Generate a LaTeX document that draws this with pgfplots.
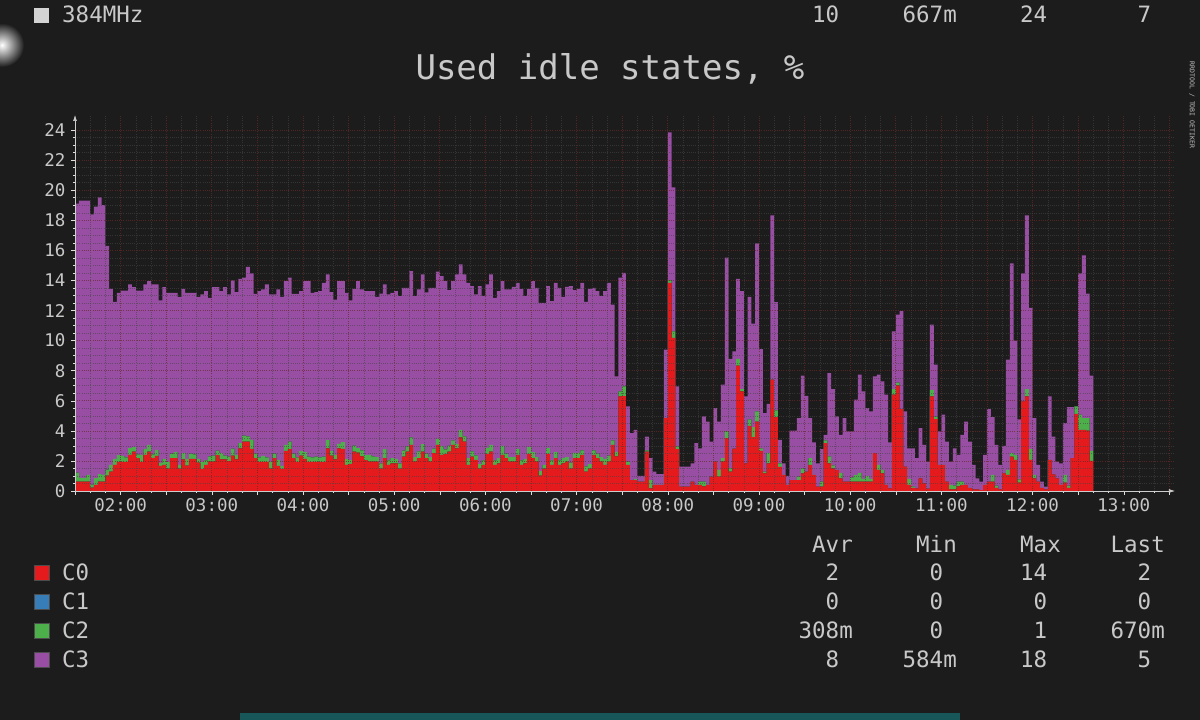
\documentclass[border=0pt]{standalone}
\usepackage{pgfplots}
\pgfplotsset{compat=1.18}
\usepackage{pgfplotstable}
\usepackage{fontspec}
\setmainfont{DejaVu Sans Mono}
\usetikzlibrary{arrows.meta}
\definecolor{bg}{HTML}{1C1C1C}
\definecolor{txt}{HTML}{C8C8C8}
\definecolor{cC0}{HTML}{E41A1C}
\definecolor{cC1}{HTML}{377EB8}
\definecolor{cC2}{HTML}{4DAF4A}
\definecolor{cC3}{HTML}{984EA3}
\definecolor{gmaj}{HTML}{6A2A2A}
\definecolor{gmin}{HTML}{454545}
\definecolor{tealbar}{HTML}{17575A}

\pgfplotstableread{
t c0 c1 c2 c3
90 0.62 0 0.6 17.88
92.5 0.62 0 0.25 18.43
95 0.62 0 0.25 18.43
97.5 0.62 0 0.45 18.23
100 0.22 0 0.2 17.98
102.5 0.4 0 0.45 18.05
105 0.62 0 0.5 18.4
107.5 0.62 0 0.45 17.93
110 1.02 0 0.4 14.88
112.5 1.29 0 0.45 11.7
115 1.73 0 0.4 10.45
117.5 1.93 0 0.45 10.8
120 1.93 0 0.4 11.0
122.5 1.93 0 0.3 11.1
125 2.4 0 0.45 10.88
127.5 2.62 0 0.3 10.64
130 2.18 0 0.25 10.9
132.5 1.93 0 0.45 10.95
135 2.4 0 0.4 10.93
137.5 2.62 0 0.45 10.89
140 2.18 0 0.25 11.3
142.5 2.33 0 0.4 11.0
145 1.67 0 0.2 10.8
147.5 1.73 0 0.4 11.43
150 1.49 0 0.45 11.24
152.5 2.18 0 0.3 10.7
155 2.18 0 0.4 10.6
157.5 1.49 0 0.25 11.17
160 2.11 0 0.4 10.93
162.5 1.69 0 0.45 11.04
165 2.13 0 0.35 10.7
167.5 2.13 0 0.3 10.75
170 1.89 0 0.25 10.77
172.5 1.47 0 0.45 11.15
175 1.73 0 0.3 11.26
177.5 1.96 0 0.35 10.53
180 1.96 0 0.4 11.2
182.5 2.38 0 0.3 10.88
185 2.11 0 0.4 10.78
187.5 2.11 0 0.25 11.2
190 1.98 0 0.3 10.79
192.5 2.36 0 0.45 11.19
195 2.11 0 0.3 10.81
197.5 2.84 0 0.35 10.92
200 3.29 0 0.4 10.49
202.5 3.29 0 0.35 11.27
205 2.8 0 0.6 11.07
207.5 2.18 0 0.3 10.63
210 1.93 0 0.3 11.06
212.5 1.93 0 0.4 11.07
215 1.93 0 0.3 11.5
217.5 1.49 0 0.45 11.13
220 2.18 0 0.3 10.59
222.5 1.67 0 0.4 11.33
225 1.47 0 0.2 11.24
227.5 2.67 0 0.4 10.89
230 2.78 0 0.5 10.9
232.5 2.18 0 0.3 10.63
235 1.93 0 0.3 10.88
237.5 2.36 0 0.3 10.63
240 2.13 0 0.45 11.38
242.5 1.93 0 0.35 11.68
245 1.93 0 0.3 10.95
247.5 1.93 0 0.35 10.94
250 1.93 0 0.3 11.06
252.5 1.93 0 0.35 11.56
255 2.84 0 0.55 11.01
257.5 2.36 0 0.3 10.56
260 2.11 0 0.3 10.32
262.5 2.84 0 0.3 10.82
265 2.8 0 0.45 10.71
267.5 1.73 0 0.4 11.05
270 1.8 0 0.25 10.62
272.5 2.62 0 0.4 10.42
275 2.55 0 0.3 11.11
277.5 2.3 0 0.4 10.7
280 2.05 0 0.35 10.89
282.5 1.96 0 0.45 10.88
285 1.96 0 0.35 10.98
287.5 1.96 0 0.3 10.65
290 1.49 0 0.35 11.29
292.5 2.18 0 0.6 10.95
295 1.73 0 0.3 11.04
297.5 1.84 0 0.35 10.99
300 1.84 0 0.3 11.15
302.5 1.49 0 0.35 11.12
305 2.29 0 0.4 10.82
307.5 2.62 0 0.35 10.54
310 3.07 0 0.5 11.05
312.5 1.96 0 0.3 10.7
315 2.18 0 0.45 10.77
317.5 2.62 0 0.5 11.28
320 2.18 0 0.3 10.72
322.5 1.96 0 0.3 11.25
325 2.51 0 0.3 10.7
327.5 3.07 0 0.4 11.11
330 2.4 0 0.6 11.29
332.5 2.47 0 0.3 11.19
335 2.62 0 0.4 10.34
337.5 3.07 0 0.3 10.59
340 2.84 0 0.3 11.26
342.5 3.56 0 0.5 11.01
345 3.29 0 0.35 10.76
347.5 1.73 0 0.45 11.66
350 2.29 0 0.35 10.98
352.5 2.07 0 0.3 10.7
355 1.49 0 0.3 11.83
357.5 1.73 0 0.3 10.93
360 2.47 0 0.4 10.86
362.5 2.62 0 0.45 11.33
365 1.73 0 0.3 10.81
367.5 1.84 0 0.35 11.1
370 2.4 0 0.6 10.96
372.5 2.18 0 0.3 10.92
375 1.96 0 0.3 11.14
377.5 1.96 0 0.3 11.32
380 2.4 0 0.4 11.04
382.5 1.73 0 0.3 11.41
385 1.84 0 0.3 10.82
387.5 2.47 0 0.45 10.52
390 2.18 0 0.4 11.38
392.5 1.96 0 0.3 11.25
395 1.02 0 0.3 11.19
397.5 1.49 0 0.25 10.77
400 2.47 0 0.4 10.75
402.5 1.73 0 0.3 10.59
405 2.18 0 0.4 11.26
407.5 1.73 0 0.3 11.48
410 1.84 0 0.35 10.72
412.5 1.96 0 0.3 11.32
415 1.49 0 0.4 11.73
417.5 2.18 0 0.35 10.83
420 2.18 0 0.35 10.91
422.5 2.4 0 0.3 11.14
425 1.29 0 0.35 10.94
427.5 1.49 0 0.3 11.65
430 2.4 0 0.3 10.81
432.5 2.18 0 0.3 10.81
435 1.96 0 0.3 10.7
437.5 1.73 0 0.4 11.16
440 1.96 0 0.4 11.48
442.5 3.07 0 0.3 9.03
445 2.3 0 0.3 5.02
447.5 6.29 0 0.33 7.56
450 6.3 0 0.66 7.55
452.5 1.73 0 0.23 3.66
455 0.73 0 0 3.11
457.5 0.73 0 0.07 3.27
460 0.62 0 0 0.38
462.5 0.62 0 0 0.38
465 2.62 0 0.08 0.92
467.5 0.18 0 0.55 1.45
470 0.4 0 0 0.89
472.5 0.4 0 0 0.73
475 0.4 0 0 0.73
477.5 4.84 0 0 4.56
480 13.84 0 0.16 9.84
482.5 10.18 0 0.44 9.56
485 2.78 0 0.18 4.0
487.5 0.29 0 0 1.33
490 0.29 0 0 1.33
492.5 0.29 0 0 1.33
495 0.62 0 0 1.22
497.5 0.4 0 0 2.78
500 0.4 0 0.22 2.22
502.5 0.3 0 0.32 4.34
505 0.4 0 0 4.22
507.5 0.96 0 0 2.33
510 1.96 0 0 3.55
512.5 0.96 0 0.44 3.22
515 1.96 0 0.22 4.89
517.5 3.51 0 0.45 11.55
520 1.29 0 0.22 7.27
522.5 2.82 0 0 6.47
525 8.33 0 0.45 5.33
527.5 6.62 0 0.16 6.51
530 1.84 0 0 4.45
532.5 4.33 0 0.43 8.15
535 3.58 0 0.66 6.89
537.5 4.62 0 0.67 11.18
540 2.67 0 0.17 6.6
542.5 1.18 0 0.11 3.89
545 1.84 0 0.67 3.29
547.5 7.4 0 0 10.93
550 4.91 0 0.45 7.2
552.5 1.6 0 0.24 1.56
555 1.07 0 0 0.77
557.5 0.4 0 0 0.6
560 0.73 0 0 3.29
562.5 0.73 0 0 3.29
565 0.73 0 0.22 3.89
567.5 1.18 0 0.32 6.17
570 1.29 0 0 5.04
572.5 1.73 0 0.45 2.66
575 1.07 0 0 2.17
577.5 0.29 0 0 1.55
580 0.29 0 0.33 2.16
582.5 3.18 0 0.18 0.37
585 1.84 0 0.46 5.54
587.5 1.51 0 0.19 5.08
590 1.4 0 0 3.56
592.5 0.84 0 0.36 2.53
595 0.62 0 0 4.22
597.5 0.62 0 0 3.34
600 0.62 0 0.28 3.06
602.5 0.62 0 0.45 5.0
605 0.62 0 0.58 6.53
607.5 0.62 0 0.18 5.82
610 0.62 0 0.38 4.51
612.5 0.62 0 0.18 4.49
615 2.51 0 0 5.11
617.5 1.4 0 0.33 6.0
620 1.18 0 0.22 5.89
622.5 0.4 0 0 6.0
625 0.18 0 0 3.06
627.5 6.4 0 0.38 3.84
630 7.02 0 0.18 4.53
632.5 5.44 0 0 6.52
635 1.62 0 0 3.67
637.5 0.4 0 0.4 2.04
640 0.2 0 0.1 2.54
642.5 0.18 0 0 2.0
645 0.84 0 0 3.34
647.5 0.51 0 0 2.56
650 0.15 0 0 1.81
652.5 6.29 0 0.44 4.34
655 4.78 0 0.17 3.45
657.5 1.73 0 0 2.23
660 1.73 0 0 3.34
662.5 0.62 0 0 2.67
665 0.1 0 0.3 1.56
667.5 0.1 0 0.25 2.49
670 0.3 0 0.32 1.78
672.5 0.4 0 0.22 3.11
675 0.4 0 0 4.22
677.5 0.2 0 0 3.09
680 0.1 0 0 1.63
682.5 0.1 0 0 0.74
685 0.05 0 0 0.57
687.5 0.4 0 0 2.0
690 0.62 0 0 4.82
692.5 0.62 0 0.45 3.84
695 0.2 0 0.15 2.72
697.5 0.1 0 0 1.63
700 1.18 0 0 1.82
702.5 1.07 0 0.33 7.33
705 2.29 0 0.22 12.62
707.5 2.07 0 0.33 7.6
710 0.56 0 0.22 3.98
712.5 5.96 0 0 8.51
715 6.29 0 0.49 11.55
717.5 2.07 0 0.73 9.38
720 0.84 0 0.23 3.77
722.5 0.62 0 0 1.11
725 0.2 0 0 0.42
727.5 0.1 0 0 0.19
730 2.07 0 0 4.22
732.5 1.11 0 0 2.51
735 0.84 0 0 1.12
737.5 0.4 0 0 1.44
740 0.56 0 0.51 3.44
742.5 0.2 0 0.15 5.23
745 2.18 0 0 3.4
747.5 5.13 0 0.49 0.0
750 4.07 0 1.0 9.4
752.5 4.07 0 0.77 10.83
755 4.02 0 0.82 8.29
757.5 2.0 0 0.67 5.0
760 2.0 0 0.67 5.0
}\idle

\begin{document}
\begin{tikzpicture}[x=1pt,y=1pt]
\begin{scope}[shift={(-75pt,-229pt)}]
\fill[bg] (0,0) rectangle (1200,720);
\shade[inner color=white, outer color=bg] (2,675) circle (22);
\end{scope}

\begin{axis}[
  anchor=south west,
  scale only axis, width=1100pt, height=376pt,
  xmin=90, xmax=813.7, ymin=0, ymax=25,
  stack plots=y,
  axis on top,
  axis x line=bottom, axis y line=left,
  axis line style={draw=txt!90, line width=0.7pt, -{Latex[length=6pt,width=4pt]}},
  xtick={90,120,...,810},
  xticklabels={,02:00,,03:00,,04:00,,05:00,,06:00,,07:00,,08:00,,09:00,,10:00,,11:00,,12:00,,13:00,},
  minor x tick num=2,
  ytick={0,2,...,24},
  minor y tick num=3,
  grid=both,
  major grid style={draw=gmaj, line width=0.6pt, dash pattern=on 1pt off 1.2pt, opacity=0.7},
  minor grid style={draw=gmin, line width=0.5pt, dash pattern=on 1pt off 1.2pt, opacity=0.6},
  tick align=outside,
  major tick length=4pt, minor tick length=2pt,
  tick style={draw=txt!60, line width=0.5pt},
  ticklabel style={font=\fontsize{17.5}{20}\selectfont, text=txt},
  /pgf/number format/assume math mode=true,
  xticklabel style={yshift=0pt},
  yticklabel style={xshift=-2pt},
]
\addplot[fill=cC0, draw=none, const plot mark left] table[x=t, y=c0]{\idle} \closedcycle;
\addplot[fill=cC1, draw=none, const plot mark left] table[x=t, y=c1]{\idle} \closedcycle;
\addplot[fill=cC2, draw=none, const plot mark left] table[x=t, y=c2]{\idle} \closedcycle;
\addplot[fill=cC3, draw=none, const plot mark left] table[x=t, y=c3]{\idle} \closedcycle;
\end{axis}

\begin{scope}[shift={(-75pt,-229pt)}]
\tikzset{lg/.style={font=\fontsize{22.5}{26}\selectfont, text=txt, inner sep=0pt, text height=1.6ex, text depth=0.25ex}}
% header remnants
\fill[txt!80] (34,697) rectangle (49,712);
\node[lg, anchor=west] at (62,701) {384MHz};
\node[lg, anchor=east] at (853,701) {10\phantom{m}};
\node[lg, anchor=east] at (957,701) {667m};
\node[lg, anchor=east] at (1061,701) {24\phantom{m}};
\node[lg, anchor=east] at (1165,701) {7\phantom{m}};
% title
\node[font=\fontsize{34}{40}\selectfont, text=txt] at (610,651) {Used idle states, \%};
% watermark
\node[font=\fontsize{6.5}{7}\selectfont, text=black!55!white!45, rotate=-90] at (1192,615) {RRDTOOL / TOBI OETIKER};
% legend
\foreach \c/\y/\n in {cC0/147/C0, cC1/118/C1, cC2/89/C2, cC3/60/C3}{
  \fill[\c, draw=black!70, line width=0.5pt] (34,\y-7.5) rectangle (49,\y+7.5);
  \node[lg, anchor=west] at (62,\y-4) {\n};
}
% stats table
\node[lg, anchor=east] at (853,171) {Avr};
\node[lg, anchor=east] at (957,171) {Min};
\node[lg, anchor=east] at (1061,171) {Max};
\node[lg, anchor=east] at (1165,171) {Last};
\node[lg, anchor=east] at (853,143) {2\phantom{m}};
\node[lg, anchor=east] at (957,143) {0\phantom{m}};
\node[lg, anchor=east] at (1061,143) {14\phantom{m}};
\node[lg, anchor=east] at (1165,143) {2\phantom{m}};
\node[lg, anchor=east] at (853,114) {0\phantom{m}};
\node[lg, anchor=east] at (957,114) {0\phantom{m}};
\node[lg, anchor=east] at (1061,114) {0\phantom{m}};
\node[lg, anchor=east] at (1165,114) {0\phantom{m}};
\node[lg, anchor=east] at (853,85) {308m};
\node[lg, anchor=east] at (957,85) {0\phantom{m}};
\node[lg, anchor=east] at (1061,85) {1\phantom{m}};
\node[lg, anchor=east] at (1165,85) {670m};
\node[lg, anchor=east] at (853,56) {8\phantom{m}};
\node[lg, anchor=east] at (957,56) {584m};
\node[lg, anchor=east] at (1061,56) {18\phantom{m}};
\node[lg, anchor=east] at (1165,56) {5\phantom{m}};
% bottom bar
\fill[tealbar] (240,0) rectangle (960,7);
\pgfresetboundingbox
\path[use as bounding box] (0,0) rectangle (1200,720);
\end{scope}
\end{tikzpicture}
\end{document}
